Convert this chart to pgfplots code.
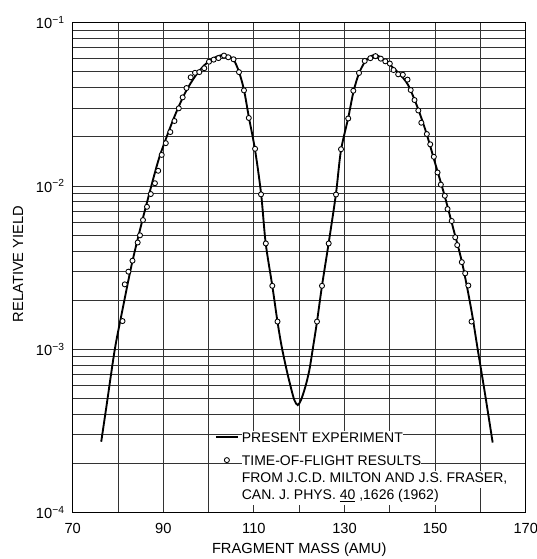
\documentclass[border=0pt]{standalone}
\usepackage{fontspec}
\setmainfont{Liberation Sans}
\usepackage{pgfplots}
\pgfplotsset{compat=1.18}
\pgfdeclarelayer{whitebox}
\pgfplotsset{
  layers/gridpaper/.define layer set={axis background,axis grid,whitebox,axis ticks,axis lines,axis tick labels,pre main,main,axis descriptions,axis foreground}{},
  curveleg/.style={legend image code/.code={\draw[##1] (0pt,3.7pt) -- (16.5pt,3.7pt);}},
  markleg/.style={legend image code/.code={\draw[##1] plot coordinates {(8.25pt,3.7pt)};}},
}

\begin{document}
\begin{tikzpicture}
\begin{axis}[
  name=ax,
  set layers=gridpaper,
  scale only axis,
  width=339.75pt, height=367.5pt,
  xmin=70, xmax=170, ymin=1e-4, ymax=1e-1,
  ymode=log,
  xtick={70,90,...,170},
  minor xtick={80,100,...,160},
  xticklabels={70,90,110,130,150,170},
  ytick={1e-4,1e-3,1e-2,1e-1},
  yticklabels={10\textsuperscript{−4},10\textsuperscript{−3},10\textsuperscript{−2},10\textsuperscript{−1}},
  grid=both,
  major grid style={black!80, line width=0.7pt},
  minor grid style={black!80, line width=0.7pt},
  axis line style={line width=1.1pt},
  major tick length=8pt, minor tick length=8pt,
  tick style={black!80, line width=0.7pt},
  tick label style={font=\fontsize{11}{13}\selectfont},
  xticklabel style={yshift=-4pt},
  yticklabel style={xshift=-2.5pt},
  label style={font=\fontsize{11}{13}\selectfont},
  xlabel={FRAGMENT MASS (AMU)},
  xlabel style={at={(axis description cs:0.5,0)}, anchor=base, yshift=-30.2pt},
  ylabel={RELATIVE YIELD},
  ylabel style={at={(axis description cs:-0.1207,0.5076)}, anchor=center},
  legend cell align=left,
  legend style={draw=none, fill=none, inner sep=0pt, outer sep=0pt,
    row sep=0pt, column sep=2.25pt,
    at={(0.314,0.1667)}, anchor=north west,
    font=\fontsize{10.5}{12.75}\selectfont,
    cells={anchor=base west},
    nodes={inner sep=0pt, text height=8.25pt, text depth=4.5pt, fill=white}},
]

% white patch of the graph paper behind the legend
\addplot[on layer=whitebox, fill=white, draw=none, forget plot] coordinates {
  (101,1e-4) (101,3.45e-4) (149.9,3.45e-4) (149.9,2.9e-4) (159.85,2.9e-4) (159.85,1e-4)
  } -- cycle;

% present experiment
\addplot[black, line width=1.4pt, smooth, mark=none, curveleg]
  coordinates {
  (76.3,2.72e-4) (77.5,4.57e-4) (79.3,1.0e-3) (81,1.75e-3) (83,3.28e-3)
  (85,5.60e-3) (87,9.18e-3) (89,1.46e-2) (91,2.09e-2) (93,2.89e-2)
  (95,3.80e-2) (97,4.68e-2) (99,5.47e-2) (101,6.04e-2) (102.3,6.27e-2)
  (103.4,6.34e-2) (104.6,6.21e-2) (105.6,5.89e-2) (106.7,5.01e-2) (107.8,3.89e-2)
  (108.9,2.63e-2) (110.26,1.66e-2) (111.6,8.91e-3) (112.6,4.47e-3) (114.06,2.45e-3)
  (115.2,1.48e-3) (116.13,1.04e-3) (117.24,7.45e-4) (118.12,5.90e-4) (118.92,4.90e-4)
  (119.67,4.56e-4) (120.4,4.90e-4) (121.35,5.90e-4) (122.23,7.45e-4) (123.1,1.05e-3)
  (123.93,1.48e-3) (125.03,2.45e-3) (126.5,4.47e-3) (128.1,8.91e-3) (129.2,1.64e-2)
  (130.8,2.60e-2) (132,3.80e-2) (133.2,4.90e-2) (134.5,5.75e-2) (135.7,6.19e-2)
  (136.7,6.34e-2) (138,6.14e-2) (140,5.52e-2) (142,4.90e-2) (144,4.17e-2)
  (146,3.09e-2) (148,2.14e-2) (150,1.38e-2) (152,8.91e-3) (154,5.50e-3)
  (156,3.35e-3) (158,1.74e-3) (159.4,1.0e-3) (161,5.37e-4) (162.7,2.69e-4)
  };
\addlegendentry[text depth=9pt]{PRESENT EXPERIMENT}

% time-of-flight results
\addplot[only marks, mark=*, mark size=1.9pt,
  mark options={fill=white, draw=black, line width=0.65pt}, markleg]
  coordinates {
  (81.0,1.49e-3) (81.5,2.50e-3) (82.3,2.99e-3) (83.2,3.49e-3) (84.35,4.51e-3)
  (84.86,4.99e-3) (85.52,6.19e-3) (86.40,7.46e-3) (87.24,8.93e-3) (88.15,1.04e-2)
  (88.87,1.24e-2) (89.65,1.55e-2) (90.55,1.83e-2) (91.55,2.14e-2) (92.47,2.50e-2)
  (93.42,2.99e-2) (94.28,3.49e-2) (95.12,3.98e-2) (96.05,4.63e-2) (97.0,4.93e-2)
  (97.95,4.98e-2) (99.05,5.26e-2) (100.09,5.77e-2) (101.13,5.94e-2) (102.19,6.07e-2)
  (103.40,6.29e-2) (104.35,6.14e-2) (105.50,5.97e-2) (106.71,4.98e-2) (107.81,3.85e-2)
  (108.87,2.61e-2) (110.26,1.69e-2) (111.57,8.89e-3) (112.63,4.45e-3) (114.06,2.45e-3)
  (115.21,1.48e-3)
  (123.93,1.48e-3) (125.03,2.45e-3) (126.51,4.45e-3) (128.12,8.87e-3) (129.23,1.68e-2)
  (130.82,2.59e-2) (131.94,3.83e-2) (133.20,4.92e-2) (134.46,5.83e-2) (135.70,6.06e-2)
  (136.84,6.24e-2) (138.01,6.02e-2) (139.01,5.80e-2) (140.00,5.62e-2) (140.82,5.13e-2)
  (141.85,4.83e-2) (142.87,4.80e-2) (143.91,4.48e-2) (144.61,3.87e-2) (145.45,3.36e-2)
  (146.29,2.90e-2) (146.95,2.44e-2) (148.17,2.08e-2) (148.92,1.80e-2) (149.71,1.51e-2)
  (150.53,1.21e-2) (151.26,1.02e-2) (152.14,8.72e-3) (152.74,7.23e-3) (153.66,6.11e-3)
  (154.44,4.85e-3) (154.88,4.35e-3) (155.89,3.42e-3) (156.64,2.92e-3) (157.33,2.46e-3)
  (158.04,1.48e-3)
  };
\addlegendentry{TIME-OF-FLIGHT RESULTS}
\addlegendimage{empty legend}
\addlegendentry{FROM J.C.D. MILTON  AND J.S. FRASER,}
\addlegendimage{empty legend}
\addlegendentry{CAN. J. PHYS. \underline{40} ,1626 (1962)}
\end{axis}
\pgfresetboundingbox
\path[use as bounding box] ([xshift=-54.5pt,yshift=-34.7pt]ax.south west)
  rectangle ([xshift=7.7pt,yshift=17pt]ax.north east);
\end{tikzpicture}
\end{document}
